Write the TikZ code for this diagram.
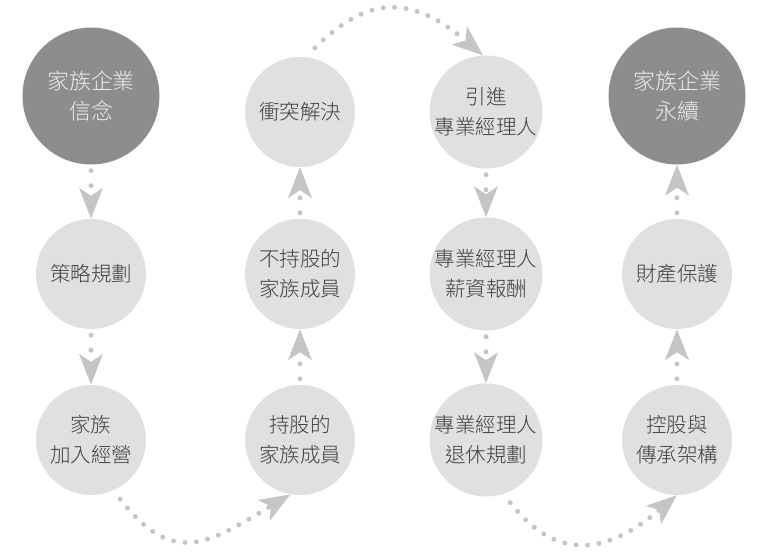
\documentclass[tikz,border=0pt]{standalone}
\usepackage{fontspec}
\newfontfamily\tcfont{Noto Sans CJK TC Light}
\usetikzlibrary{arrows.meta}
\definecolor{darkdisc}{HTML}{8D8D8D}
\definecolor{lightdisc}{HTML}{E0E0E0}
\definecolor{dotgrey}{HTML}{C4C6C4}
\definecolor{labelgrey}{HTML}{3E3E3E}
\begin{document}
\begin{tikzpicture}[x=1pt,y=1pt,
    disc/.style={circle,fill=lightdisc,minimum size=110pt,inner sep=0pt,align=center,
      text=labelgrey,font={\tcfont\fontsize{20.5}{30}\selectfont}},
    bigdisc/.style={disc,fill=darkdisc,minimum size=137pt,text=white!93!black,
      font={\tcfont\fontsize{22}{30}\selectfont}},
    flow/.style={dotgrey,line width=5pt,line cap=round,dash pattern=on 0pt off 15pt,
      shorten <=6pt,-{Stealth[length=31pt,width=24pt,inset=8pt,line width=0pt]}},
    arcflow/.style={flow,dash pattern=on 0pt off 11.5pt,shorten <=11pt}]
    \useasboundingbox (0,0) rectangle (772,556);
    % column 1
    \node[bigdisc] (belief) at (91,460) {家族企業\\信念};
    \node[disc] (strategy) at (91,282) {策略規劃};
    \node[disc] (join) at (91,116) {家族\\加入經營};
    % column 2
    \node[disc] (holding) at (300,116) {持股的\\家族成員};
    \node[disc] (nonholding) at (300,282) {不持股的\\家族成員};
    \node[disc] (conflict) at (300,444) {衝突解決};
    % column 3
    \node[disc] (intro) at (486,444) {引進\\專業經理人};
    \node[disc] (salary) at (486,282) {專業經理人\\薪資報酬};
    \node[disc] (retire) at (486,116) {專業經理人\\退休規劃};
    % column 4
    \node[disc] (structure) at (677,116) {控股與\\傳承架構};
    \node[disc] (asset) at (677,282) {財產保護};
    \node[bigdisc] (legacy) at (677,460) {家族企業\\永續};
    % straight links
    \draw[flow] (belief.south) -- (strategy.north);
    \draw[flow] (strategy.south) -- (join.north);
    \draw[flow] (holding.north) -- (nonholding.south);
    \draw[flow] (nonholding.north) -- (conflict.south);
    \draw[flow] (intro.south) -- (salary.north);
    \draw[flow] (salary.south) -- (retire.north);
    \draw[flow] (structure.north) -- (asset.south);
    \draw[flow] (asset.north) -- (legacy.south);
    % curved links
    \draw[arcflow] (join.-66) to[out=-52,in=-149,looseness=1.4] (holding.-100);
    \draw[arcflow,shorten <=13pt] (conflict.84) to[out=45,in=140,looseness=1.31] (intro.93);
    \draw[arcflow] (retire.-72) to[out=-52,in=-140,looseness=1.31] (structure.-90);
\end{tikzpicture}
\end{document}
